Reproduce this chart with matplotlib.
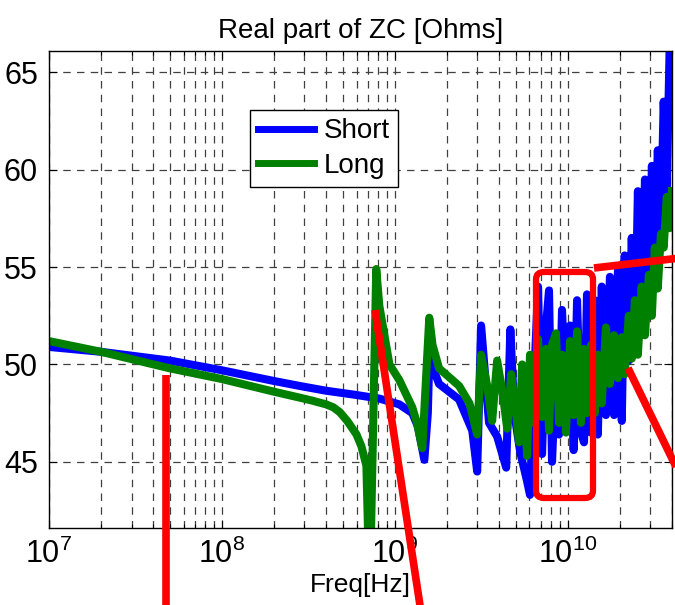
import matplotlib
matplotlib.use("Agg")
import matplotlib.pyplot as plt
from matplotlib.lines import Line2D
from matplotlib.patches import FancyBboxPatch

plt.rcParams['font.family'] = ['Liberation Sans', 'DejaVu Sans']
plt.rcParams['mathtext.fontset'] = 'custom'
plt.rcParams['mathtext.rm'] = 'Liberation Sans'

# Short line
short_f = [1.0e7, 2.0e7, 5.0e7, 1.0e8, 2.0e8, 2.8e8, 4.0e8, 5.8e8, 8.1e8, 1.06e9,
           1.26e9, 1.36e9, 1.48e9, 1.55e9, 1.58e9, 1.8e9, 2.35e9, 2.8e9, 2.99e9, 3.15e9,
           3.5e9, 3.9e9, 4.4e9, 4.65e9, 4.9e9, 5.3e9,
           5.81e9, 6.04e9, 6.37e9, 6.72e9, 7.09e9, 7.48e9, 7.78e9, 8.10e9, 8.54e9, 8.89e9,
           9.25e9, 9.75e9, 1.03e10, 1.08e10, 1.13e10, 1.19e10, 1.24e10, 1.29e10, 1.36e10,
           1.43e10, 1.49e10, 1.57e10, 1.66e10, 1.75e10, 1.85e10, 1.95e10, 2.05e10, 2.13e10,
           2.25e10, 2.34e10, 2.44e10, 2.54e10, 2.67e10, 2.79e10, 2.94e10, 3.06e10, 3.18e10,
           3.31e10, 3.45e10, 3.58e10, 3.73e10, 3.88e10, 3.99e10]
short_r = [50.9, 50.65, 50.2, 49.7, 49.15, 48.9, 48.65, 48.45, 48.25, 47.95,
           47.5, 46.8, 45.1, 47.5, 50.3, 49.0, 48.2, 46.6, 44.5, 52.0,
           47.0, 46.3, 44.7, 51.8, 47.5, 45.5,
           44.0, 43.3, 49.0, 54.0, 45.4, 52.0, 53.8, 45.0, 50.0, 46.4,
           52.8, 48.0, 52.0, 45.6, 53.3, 46.5, 46.0, 53.6, 46.5,
           53.3, 46.4, 54.0, 47.4, 54.5, 47.4, 55.0, 47.1, 55.6,
           50.2, 56.5, 50.8, 58.9, 51.5, 59.5, 53.5, 60.2, 55.0,
           61.0, 57.0, 63.5, 59.0, 66.5, 66.5]

# Long line
long_f = [1.0e7, 2.0e7, 5.0e7, 1.0e8, 2.0e8, 2.8e8, 3.3e8, 4.0e8, 4.4e8, 4.8e8,
          5.3e8, 6.0e8, 6.4e8, 6.84e8,
          7.15e8, 7.8e8, 8.13e8, 9.3e8, 1.06e9, 1.26e9, 1.34e9, 1.44e9, 1.58e9, 1.65e9,
          1.8e9, 2.35e9, 2.7e9, 2.99e9, 3.15e9, 3.4e9, 3.65e9, 3.9e9, 4.2e9, 4.46e9,
          4.7e9, 4.95e9, 5.22e9, 5.44e9,
          5.81e9, 6.04e9, 6.37e9, 6.72e9, 7.09e9, 7.48e9, 7.78e9, 8.10e9, 8.54e9, 8.89e9,
          9.25e9, 9.75e9, 1.03e10, 1.08e10, 1.13e10, 1.19e10, 1.24e10, 1.29e10, 1.36e10,
          1.43e10, 1.49e10, 1.57e10, 1.66e10, 1.75e10, 1.85e10, 1.95e10, 2.05e10, 2.13e10,
          2.25e10, 2.34e10, 2.44e10, 2.54e10, 2.67e10, 2.79e10, 2.94e10, 3.06e10, 3.18e10,
          3.31e10, 3.45e10, 3.58e10, 3.73e10, 3.88e10, 3.99e10]
long_r = [51.2, 50.65, 49.8, 49.25, 48.6, 48.3, 48.15, 47.95, 47.8, 47.55,
          47.1, 46.4, 45.8, 44.8,
          38.0, 54.9, 53.0, 50.0, 49.2, 47.8, 47.0, 45.7, 52.4, 51.0,
          49.8, 48.9, 48.0, 46.4, 50.5, 49.0, 47.1, 50.2, 48.5, 46.7,
          49.5, 48.0, 46.0, 50.0,
          45.3, 50.5, 47.0, 51.3, 47.3, 50.8, 46.6, 51.0, 51.6, 47.0,
          50.5, 46.5, 51.2, 47.4, 51.7, 47.0, 50.8, 47.5, 51.0,
          47.5, 50.5, 48.0, 51.9, 49.0, 51.5, 49.3, 51.4, 49.5,
          52.5, 50.3, 53.3, 50.5, 54.0, 51.5, 54.6, 52.5, 56.0,
          53.9, 56.7, 56.0, 58.6, 57.0, 58.9]

W, H = 675, 605
fig = plt.figure(figsize=(6.75, 6.05), dpi=100)
ax = fig.add_axes([49 / W, 1 - 528 / H, 623 / W, 477 / H])

ax.plot(short_f, short_r, color='#0000ff', lw=5.8, solid_joinstyle='round', label='Short')
ax.plot(long_f, long_r, color='#008000', lw=5.8, solid_joinstyle='round', label='Long')

ax.set_xscale('log')
ax.set_xlim(1e7, 4e10)
ax.set_ylim(41.6, 66.1)
ax.set_yticks([45, 50, 55, 60, 65])

ax.grid(True, which='major', axis='both', color='0.25', ls=(0, (6, 5)), lw=0.9)
ax.grid(True, which='minor', axis='x', color='0.25', ls=(0, (6, 5)), lw=0.9)
ax.tick_params(which='both', direction='in', top=True, right=True, labelsize=22, width=0.8)
ax.tick_params(which='major', length=6, pad=8)
ax.tick_params(which='minor', length=3)
for s in ax.spines.values():
    s.set_linewidth(1.0)

ax.set_title('Real part of ZC [Ohms]', fontsize=20, pad=9)
ax.set_xlabel('Freq[Hz]', fontsize=19, labelpad=2)

leg = ax.legend(loc='upper left', bbox_to_anchor=(0.3226, 0.876), borderaxespad=0,
                fontsize=20, fancybox=False, edgecolor='black', framealpha=1,
                handlelength=2.0, handletextpad=0.35, borderpad=0.3, labelspacing=0.3)
leg.get_frame().set_linewidth(1.0)
for h in leg.get_lines():
    h.set_linewidth(5)

# red annotation marks on top, in figure pixels
def fig_line(x0, y0, x1, y1):
    fig.add_artist(Line2D([x0 / W, x1 / W], [1 - y0 / H, 1 - y1 / H],
                          color='#ff0000', lw=5.5, solid_capstyle='butt'))

fig_line(166, 375, 166, 610)
fig_line(375, 310, 421, 612)
fig_line(594, 268, 680, 258)
fig_line(628, 368, 680, 475)

box = FancyBboxPatch((536 / W, 1 - 498 / H), 57 / W, 226 / H,
                     boxstyle='round,pad=0,rounding_size=0.012', transform=fig.transFigure,
                     fill=False, edgecolor='#ff0000', lw=4.5)
fig.add_artist(box)

fig.savefig('out.png', dpi=100)
